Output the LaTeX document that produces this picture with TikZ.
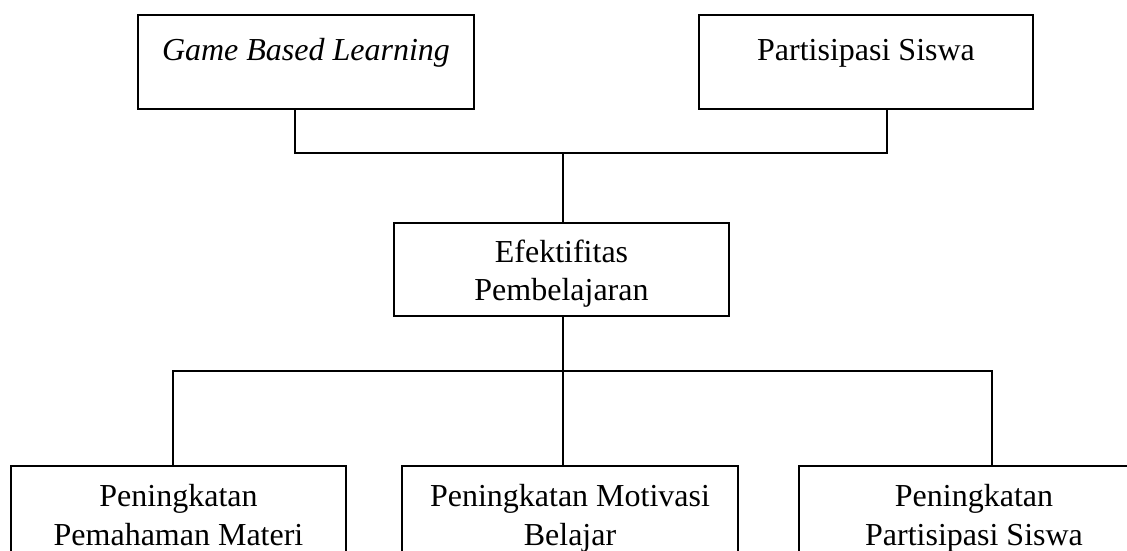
\documentclass[tikz,border=0pt]{standalone}
\usepackage{fontspec}
\setmainfont{Liberation Serif}
\begin{document}
\begin{tikzpicture}[x=1pt,y=-1pt,
  box/.style={draw=black, line width=2.4pt, minimum width=#1, minimum height=94pt, inner sep=0pt, anchor=north},
  box/.default=336pt,
  txt/.style={font=\fontsize{32pt}{38pt}\selectfont, inner sep=0pt, anchor=base},
  conn/.style={line width=2.4pt}]
\clip (0,0) rectangle (1127,551);
\fill[white] (0,0) rectangle (1127,551);
% top boxes
\node[box=336pt] (gbl) at (306,14) {};
\node[box=334pt] (ps) at (866,14) {};
\node[txt] (gblt) at (306,61) {\itshape Game Based Learning};
\node[txt] (pst) at (866,61) {Partisipasi Siswa};
% middle box
\node[box=335pt, minimum height=93pt] (eff) at (561.5,222) {};
\node[txt] (efft1) at (561.5,262) {Efektifitas};
\node[txt] (efft2) at (561.5,300.5) {Pembelajaran};
% bottom boxes
\node[box=335pt, minimum height=140pt] (b1) at (178.5,465) {};
\node[box=336pt, minimum height=140pt] (b2) at (570,465) {};
\node[box=336pt, minimum height=140pt] (b3) at (967,465) {};
\node[txt] (b1t1) at (178.5,506.5) {Peningkatan};
\node[txt] (b1t2) at (178.5,545) {Pemahaman Materi};
\node[txt] (b2t1) at (570,506.5) {Peningkatan Motivasi};
\node[txt] (b2t2) at (570,545) {Belajar};
\node[txt] (b3t1) at (974,506.5) {Peningkatan};
\node[txt] (b3t2) at (974,545) {Partisipasi Siswa};
% junctions
\coordinate (j1) at (563,153);
\coordinate (j2) at (563,371);
% connectors
\draw[conn] ([xshift=-11pt]gbl.south) |- (j1) -| ([xshift=21pt]ps.south);
\draw[conn] (j1) -- ([xshift=1.5pt]eff.north);
\draw[conn] ([xshift=1.5pt]eff.south) -- (j2);
\draw[conn] ([xshift=-5.5pt]b1.north) |- (j2) -| ([xshift=25pt]b3.north);
\draw[conn] (j2) -- ([xshift=-7pt]b2.north);
\end{tikzpicture}
\end{document}
